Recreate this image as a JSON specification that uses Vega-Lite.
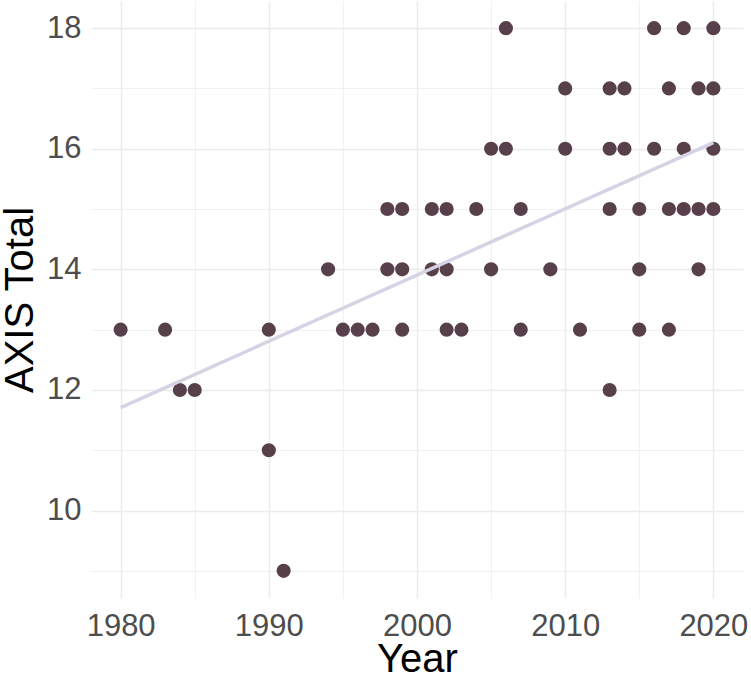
{
  "$schema": "https://vega.github.io/schema/vega-lite/v6.json",
  "width": 652,
  "height": 597,
  "autosize": {"type": "none"},
  "padding": {"left": 91, "top": 1, "right": 8, "bottom": 80},
  "background": "white",
  "config": {
    "view": {"stroke": null},
    "font": "Liberation Sans",
    "axis": {
      "domain": false,
      "ticks": false,
      "tickSize": 0,
      "labelFont": "Liberation Sans",
      "labelFontSize": 31,
      "labelColor": "#4D4D4D",
      "titleFont": "Liberation Sans",
      "titleFontSize": 40,
      "titleFontWeight": "normal",
      "titleColor": "#000000",
      "gridColor": "#EBEBEB"
    }
  },
  "data": {
    "values": [
      {"Year": 1980, "Total": 13},
      {"Year": 1983, "Total": 13},
      {"Year": 1984, "Total": 12},
      {"Year": 1985, "Total": 12},
      {"Year": 1990, "Total": 13},
      {"Year": 1990, "Total": 11},
      {"Year": 1991, "Total": 9},
      {"Year": 1994, "Total": 14},
      {"Year": 1995, "Total": 13},
      {"Year": 1996, "Total": 13},
      {"Year": 1997, "Total": 13},
      {"Year": 1998, "Total": 15},
      {"Year": 1998, "Total": 14},
      {"Year": 1999, "Total": 15},
      {"Year": 1999, "Total": 14},
      {"Year": 1999, "Total": 13},
      {"Year": 2001, "Total": 15},
      {"Year": 2001, "Total": 14},
      {"Year": 2002, "Total": 15},
      {"Year": 2002, "Total": 14},
      {"Year": 2002, "Total": 13},
      {"Year": 2003, "Total": 13},
      {"Year": 2004, "Total": 15},
      {"Year": 2005, "Total": 16},
      {"Year": 2005, "Total": 14},
      {"Year": 2006, "Total": 18},
      {"Year": 2006, "Total": 16},
      {"Year": 2007, "Total": 15},
      {"Year": 2007, "Total": 13},
      {"Year": 2009, "Total": 14},
      {"Year": 2010, "Total": 17},
      {"Year": 2010, "Total": 16},
      {"Year": 2011, "Total": 13},
      {"Year": 2013, "Total": 17},
      {"Year": 2013, "Total": 16},
      {"Year": 2013, "Total": 15},
      {"Year": 2013, "Total": 12},
      {"Year": 2014, "Total": 17},
      {"Year": 2014, "Total": 16},
      {"Year": 2015, "Total": 15},
      {"Year": 2015, "Total": 14},
      {"Year": 2015, "Total": 13},
      {"Year": 2016, "Total": 18},
      {"Year": 2016, "Total": 16},
      {"Year": 2017, "Total": 17},
      {"Year": 2017, "Total": 15},
      {"Year": 2017, "Total": 13},
      {"Year": 2018, "Total": 18},
      {"Year": 2018, "Total": 16},
      {"Year": 2018, "Total": 15},
      {"Year": 2019, "Total": 17},
      {"Year": 2019, "Total": 15},
      {"Year": 2019, "Total": 14},
      {"Year": 2020, "Total": 18},
      {"Year": 2020, "Total": 17},
      {"Year": 2020, "Total": 16},
      {"Year": 2020, "Total": 15}
    ]
  },
  "encoding": {
    "x": {
      "field": "Year",
      "type": "quantitative",
      "scale": {"domain": [1978, 2022], "nice": false, "zero": false},
      "axis": {
        "title": "Year",
        "values": [1980, 1985, 1990, 1995, 2000, 2005, 2010, 2015, 2020],
        "labelExpr": "datum.value % 10 === 0 ? datum.label : ''",
        "format": "d",
        "labelPadding": 13,
        "titlePadding": -2,
        "gridWidth": {"condition": {"test": "datum.value % 10 === 0", "value": 1.4}, "value": 0.7}
      }
    },
    "y": {
      "field": "Total",
      "type": "quantitative",
      "scale": {"domain": [8.55, 18.45], "nice": false, "zero": false},
      "axis": {
        "title": "AXIS Total",
        "values": [9, 10, 11, 12, 13, 14, 15, 16, 17, 18],
        "labelExpr": "datum.value % 2 === 0 ? datum.label : ''",
        "labelPadding": 10,
        "titlePadding": 6,
        "gridWidth": {"condition": {"test": "datum.value % 2 === 0", "value": 1.4}, "value": 0.7}
      }
    }
  },
  "layer": [
    {
      "mark": {"type": "point", "filled": true, "shape": "circle", "size": 200, "color": "#58404B", "opacity": 1}
    },
    {
      "transform": [
        {"regression": "Total", "on": "Year", "extent": [1980, 2020]}
      ],
      "mark": {"type": "line", "color": "#D6D3E4", "strokeWidth": 3.5}
    }
  ]
}
